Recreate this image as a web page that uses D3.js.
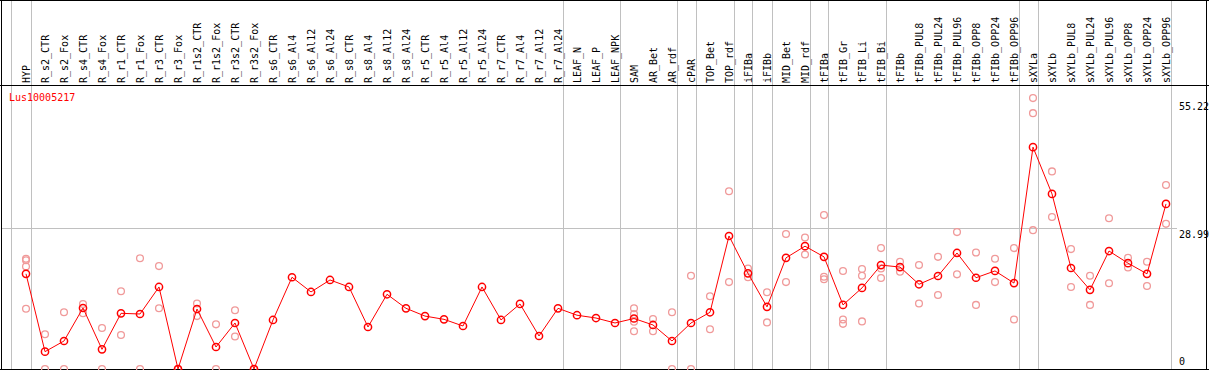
<!DOCTYPE html>
<html><head><meta charset="utf-8">
<script src="https://cdn.jsdelivr.net/npm/d3@7"></script>
<style>html,body{margin:0;padding:0;background:#fff}svg{display:block}text{font-family:"DejaVu Sans Mono",monospace;font-size:10px}</style>
</head><body>
<script>
const gene = "Lus10005217";
const categories = ["HYP","R_s2_CTR","R_s2_Fox","R_s4_CTR","R_s4_Fox","R_r1_CTR","R_r1_Fox","R_r3_CTR","R_r3_Fox","R_r1s2_CTR","R_r1s2_Fox","R_r3s2_CTR","R_r3s2_Fox","R_s6_CTR","R_s6_Al4","R_s6_Al12","R_s6_Al24","R_s8_CTR","R_s8_Al4","R_s8_Al12","R_s8_Al24","R_r5_CTR","R_r5_Al4","R_r5_Al12","R_r5_Al24","R_r7_CTR","R_r7_Al4","R_r7_Al12","R_r7_Al24","LEAF_N","LEAF_P","LEAF_NPK","SAM","AR_Bet","AR_rdf","cPAR","TOP_Bet","TOP_rdf","iFIBa","iFIBb","MID_Bet","MID_rdf","tFIBa","tFIB_Gr","tFIB_Li","tFIB_Bi","tFIBb","tFIBb_PUL8","tFIBb_PUL24","tFIBb_PUL96","tFIBb_OPP8","tFIBb_OPP24","tFIBb_OPP96","sXYLa","sXYLb","sXYLb_PUL8","sXYLb_PUL24","sXYLb_PUL96","sXYLb_OPP8","sXYLb_OPP24","sXYLb_OPP96"];
const groupSizes = [1,28,3,3,1,2,1,1,2,1,3,7,1,7];
const means = [19.6,3.57,5.77,12.57,4.05,11.47,11.33,16.9,0,12.36,4.53,9.48,0,10.1,18.9,15.87,18.34,16.9,8.65,15.39,12.5,10.9,10.23,8.86,16.9,10.1,13.4,6.8,12.5,11.08,10.5,9.48,10.4,9.07,5.77,9.48,11.68,27.4,19.7,12.8,22.9,25.3,23.1,13.2,16.7,21.4,21.0,17.45,19.16,23.9,18.8,20.2,17.7,45.7,36.06,20.8,16.3,24.3,21.8,19.6,34.0];
const replicates = [[22.7,22.4,21.1,12.4],[7.15,0],[11.7,0],[13.4,11.5],[8.45,0],[16.0,7.0],[22.8,0],[21.2,12.5],[0,0],[13.5,10.9],[9.2,0],[12.1,6.7],[0,0],
[],[],[],[],[],[],[],[],[],[],[],[],[],[],[],[],[],[],[],
[12.5,11.3,9.75,7.77],[10.3,7.77],[11.7,0],[19.2,0],[15.0,8.2],[36.6,17.9],[20.7,18.9],[15.8,9.6],[27.8,17.9],[27.1,23.6],[31.7,19.0,18.5],[20.2,10.2,9.3],[20.6,19.2,9.8],[24.9,20.7,18.75],
[22.1,20.05],[21.4,13.5],[23.1,15.25],[28.2,19.5],[24.0,13.2],[22.7,17.9],[24.9,10.2],[55.8,52.7,28.6],[40.7,31.3],[24.7,16.9],[19.2,13.2],[31.05,17.66],[22.9,20.9],[22.1,17.1],[37.9,29.9]];
const tickValues = [55.22, 28.99, 0];
const tickLabels = ["55.22", "28.99", "0"];

const W = 1209, H = 370;
const svg = d3.select("body").append("svg").attr("width", W).attr("height", H);
const x = d3.scaleLinear().domain([0, categories.length - 1]).range([26, 1166]);
const y = d3.scaleLinear().domain([0, 58.5]).range([369, 85]);

// separators
const sepIdx = [-1];
let acc = -1;
groupSizes.forEach(s => { acc += s; sepIdx.push(acc); });
svg.append("g").selectAll("line").data(sepIdx).join("line")
  .attr("x1", d => Math.round(x(d) + 4.5) + 0.5).attr("x2", d => Math.round(x(d) + 4.5) + 0.5)
  .attr("y1", 0).attr("y2", 369).attr("stroke", "#c0c0c0").attr("stroke-width", 1);

// mid gridline at 28.99
svg.append("line").attr("x1", 1.5).attr("x2", 1177)
  .attr("y1", Math.round(y(28.99)) + 0.5).attr("y2", Math.round(y(28.99)) + 0.5)
  .attr("stroke", "#c0c0c0");

// frame
const fr = svg.append("g").attr("stroke", "#000").attr("stroke-width", 1);
fr.append("line").attr("x1", 1.5).attr("x2", 1.5).attr("y1", 0).attr("y2", 370);
fr.append("line").attr("x1", 1206.5).attr("x2", 1206.5).attr("y1", 0).attr("y2", 370);
fr.append("line").attr("x1", 0).attr("x2", W).attr("y1", 0.5).attr("y2", 0.5);
fr.append("line").attr("x1", 0).attr("x2", W).attr("y1", 85.5).attr("y2", 85.5);
fr.append("line").attr("x1", 0).attr("x2", W).attr("y1", 369.5).attr("y2", 369.5);

// category labels
svg.append("g").selectAll("text").data(categories).join("text")
  .attr("transform", (d, i) => `translate(${x(i) + 4},83) rotate(-90)`)
  .attr("fill", "#000").text(d => d);

// gene label
svg.append("text").attr("x", 9).attr("y", 101).attr("fill", "#ff0000").text(gene);

// axis labels
svg.append("g").selectAll("text").data(tickValues).join("text")
  .attr("x", 1179)
  .attr("y", d => d === 0 ? y(d) - 4 : y(d) + 9.5)
  .attr("fill", "#000").text((d, i) => tickLabels[i]);

// replicates
const repPts = [];
replicates.forEach((arr, i) => arr.forEach(v => repPts.push([i, v])));
svg.append("g").selectAll("circle").data(repPts).join("circle")
  .attr("cx", d => x(d[0])).attr("cy", d => y(d[1])).attr("r", 3.4)
  .attr("fill", "none").attr("stroke", "#f09a9a").attr("stroke-width", 1.3);

// mean line
svg.append("path").datum(means)
  .attr("d", d3.line().x((d, i) => x(i)).y(d => y(d)))
  .attr("fill", "none").attr("stroke", "#ff0000").attr("stroke-width", 1);

svg.append("g").selectAll("circle").data(means).join("circle")
  .attr("cx", (d, i) => x(i)).attr("cy", d => y(d)).attr("r", 3.6)
  .attr("fill", "none").attr("stroke", "#ff0000").attr("stroke-width", 1.5);
</script>
</body></html>
